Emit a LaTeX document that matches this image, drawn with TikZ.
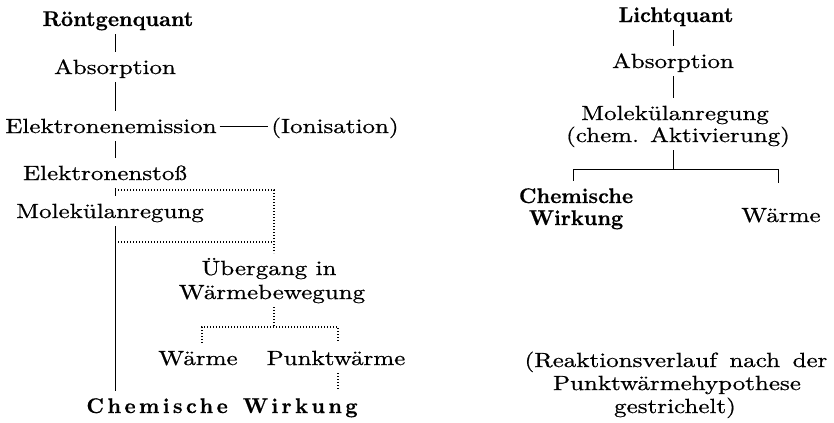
\documentclass[tikz,border=0pt]{standalone}
\usepackage{fontspec}
\setmainfont{Latin Modern Roman}
\newfontface\rx[FakeStretch=1.22, FakeBold=0.7]{lmroman10-regular.otf}
\newfontface\bx[FakeBold=0.5]{lmroman10-bold.otf}
\newfontface\spbx[LetterSpace=16, FakeBold=0.5]{lmroman10-bold.otf}
\tikzset{
  lbl/.style={font=\rx\fontsize{8.2}{9}\selectfont, anchor=base, inner xsep=1pt, inner ysep=3pt, text height=5.6pt, text depth=0pt},
  blbl/.style={font=\bx\fontsize{8.5}{9}\selectfont, anchor=base, inner xsep=1pt, inner ysep=3pt, text height=5.8pt, text depth=0pt},
  sblbl/.style={blbl, font=\spbx\fontsize{8.5}{9}\selectfont},
  conn/.style={line width=0.3pt},
  dots/.style={line width=0.55pt, dash pattern=on 0.4pt off 0.8pt},
}
\begin{document}
\begin{tikzpicture}[x=0.4pt, y=-0.4pt]
\useasboundingbox (0,0) rectangle (834,422);
% ---------- left diagram ----------
\node[blbl] (r)   at (118,26)  {Röntgenquant};
\node[lbl]  (a1)  at (115,74)  {Absorption};
\node[lbl]  (ee)  at (111,133) {Elektronenemission};
\node[lbl]  (ion) at (335,133) {(Ionisation)};
\node[lbl]  (es)  at (105,180) {Elektronenstoß};
\node[lbl]  (mol) at (110,218) {Molekülanregung};
\node[lbl]  (ub1) at (269,275) {Übergang in};
\node[lbl]  (ub2) at (272,299) {Wärmebewegung};
\node[lbl]  (w)   at (198,365) {Wärme};
\node[lbl]  (pw)  at (336,365) {Punktwärme};
\node[sblbl] (cw) at (222,413) {Chemische\hspace{6pt}Wirkung};
\coordinate (t1) at (118,190);
\coordinate (t2) at (118,242);
\coordinate (ux) at (274,190);
\coordinate (jl) at (202,327);
\coordinate (jr) at (338,327);
\draw[conn] (r.south -| a1) -- (a1.north);
\draw[conn] (a1.south) -- (ee.north -| a1);
\draw[conn] (ee.east) -- (ion.west);
\draw[conn] (ee.south -| a1) -- (es.north -| a1);
\draw[conn] (es.south -| a1) -- (mol.north -| a1);
\draw[conn] (mol.south -| a1) -- (cw.north -| a1);
\draw[dots] (t1) -- (ux) -- (ux |- ub1.north);
\draw[dots] (t2) -- (t2 -| ux);
\draw[dots] (ub2.south -| ux) -- (ux |- jl);
\draw[dots] (w.north -| jl) -- (jl) -- (jr) -- (jr |- pw.north);
\draw[dots] (pw.south -| jr) -- (cw.north -| jr);
% ---------- right diagram ----------
\node[blbl] (lq)  at (676,22)  {Lichtquant};
\node[lbl]  (a2)  at (673,68)  {Absorption};
\node[lbl]  (m2a) at (675,120) {Molekülanregung};
\node[lbl]  (m2b) at (678,142) {(chem. Aktivierung)};
\node[blbl] (cwa) at (576,203) {Chemische};
\node[blbl] (cwb) at (576,225) {Wirkung};
\node[lbl, inner ysep=10pt] (wr) at (781,222) {Wärme};
\coordinate (sp) at (673,169);
\coordinate (sl) at (573,169);
\coordinate (sr) at (778,169);
\draw[conn] (lq.south -| a2) -- (a2.north);
\draw[conn] (a2.south) -- (m2a.north -| a2);
\draw[conn] (m2b.south -| a2) -- (sp);
\draw[conn] (cwa.north -| sl) -- (sl) -- (sr) -- (wr.north -| sr);
\node[lbl] (n1) at (676,367) {(Reaktionsverlauf\hspace{5pt}nach\hspace{5pt}der};
\node[lbl] (n2) at (677,390) {Punktwärmehypothese};
\node[lbl] (n3) at (675,413) {gestrichelt)};
\end{tikzpicture}
\end{document}
